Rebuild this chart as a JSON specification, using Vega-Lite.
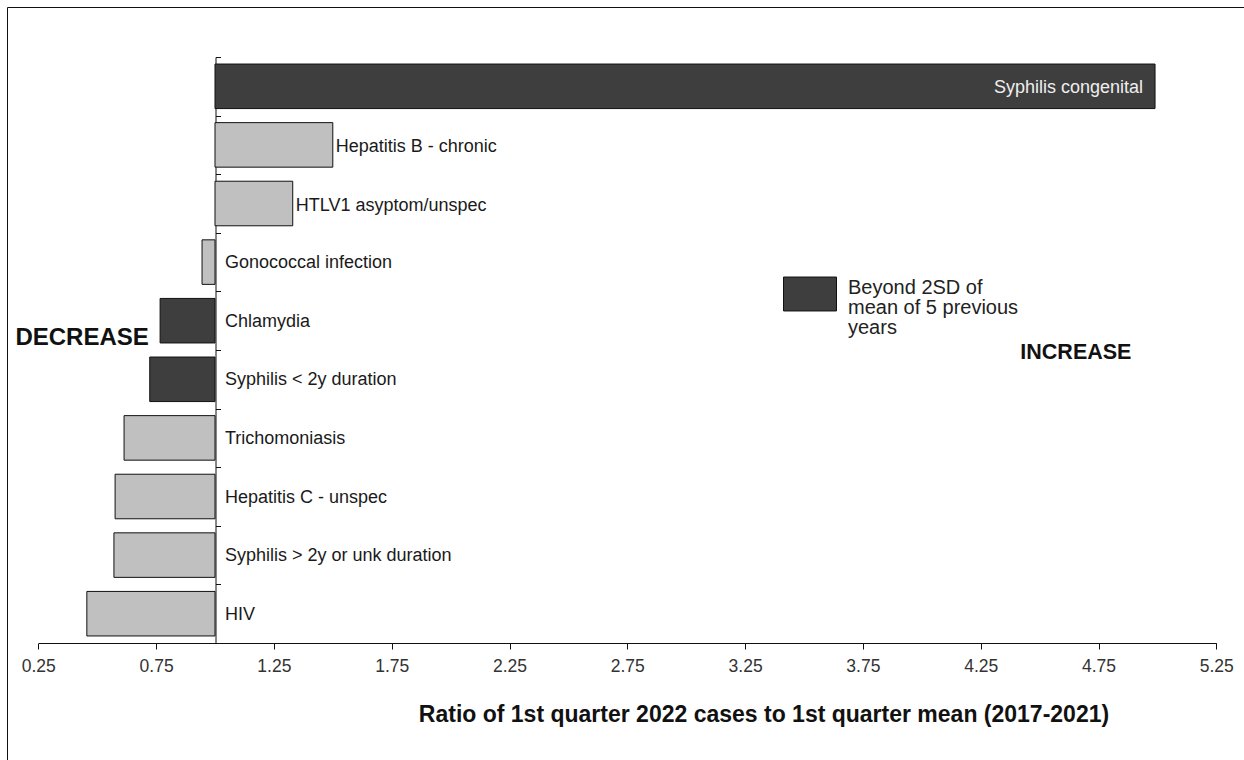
{
  "$schema": "https://vega.github.io/schema/vega-lite/v6.json",
  "autosize": {"type": "none"},
  "width": 1237,
  "height": 753,
  "padding": {"left": 7, "top": 7, "right": 0, "bottom": 0},
  "background": "white",
  "config": {
    "view": {"stroke": "#111", "strokeWidth": 1},
    "font": "Liberation Sans",
    "text": {"font": "Liberation Sans"},
    "style": {"guide-label": {"lineHeight": 20}}
  },
  "data": {
    "values": [
      {"disease": "Syphilis congenital", "ratio": 4.99, "status": "Beyond 2SD of mean of 5 previous years"},
      {"disease": "Hepatitis B - chronic", "ratio": 1.50, "status": "Within 2SD"},
      {"disease": "HTLV1 asyptom/unspec", "ratio": 1.33, "status": "Within 2SD"},
      {"disease": "Gonococcal infection", "ratio": 0.945, "status": "Within 2SD"},
      {"disease": "Chlamydia", "ratio": 0.767, "status": "Beyond 2SD of mean of 5 previous years"},
      {"disease": "Syphilis < 2y duration", "ratio": 0.723, "status": "Beyond 2SD of mean of 5 previous years"},
      {"disease": "Trichomoniasis", "ratio": 0.614, "status": "Within 2SD"},
      {"disease": "Hepatitis C - unspec", "ratio": 0.576, "status": "Within 2SD"},
      {"disease": "Syphilis > 2y or unk duration", "ratio": 0.571, "status": "Within 2SD"},
      {"disease": "HIV", "ratio": 0.456, "status": "Within 2SD"}
    ]
  },
  "encoding": {
    "y": {
      "field": "disease",
      "type": "nominal",
      "sort": null,
      "scale": {"range": [50, 636], "paddingInner": 0, "paddingOuter": 0},
      "axis": {
        "orient": "left",
        "offset": -208.5,
        "labels": false,
        "title": null,
        "tickSize": -5,
        "tickBand": "extent",
        "tickColor": "#111",
        "domainColor": "#111",
        "domainWidth": 1,
        "grid": false
      }
    }
  },
  "layer": [
    {
      "mark": {"type": "bar", "height": {"band": 0.76}, "stroke": "#111", "strokeWidth": 1},
      "encoding": {
        "x": {
          "field": "ratio",
          "type": "quantitative",
          "scale": {"domain": [0.25, 5.25], "range": [31.3, 1209.3], "nice": false, "zero": false},
          "axis": {
            "orient": "bottom",
            "offset": -117,
            "values": [0.25, 0.75, 1.25, 1.75, 2.25, 2.75, 3.25, 3.75, 4.25, 4.75, 5.25],
            "format": ".2f",
            "grid": false,
            "labelFlush": false,
            "labelOverlap": false,
            "labelFontSize": 17.5,
            "labelColor": "#333",
            "labelPadding": 8,
            "tickSize": 6,
            "tickColor": "#111",
            "domainColor": "#111",
            "title": "Ratio of 1st quarter 2022 cases to 1st quarter mean (2017-2021)",
            "titleFontSize": 23,
            "titleFontWeight": "bold",
            "titleColor": "#111",
            "titleX": 756.5,
            "titleY": 78,
            "titleAlign": "center",
            "titleBaseline": "alphabetic",
            "titleAnchor": null
          }
        },
        "x2": {"datum": 1},
        "fill": {
          "field": "status",
          "type": "nominal",
          "scale": {"domain": ["Beyond 2SD of mean of 5 previous years", "Within 2SD"], "range": ["#3e3e3e", "#c0c0c0"]},
          "legend": {
            "orient": "none",
            "legendX": 776,
            "legendY": 260,
            "values": ["Beyond 2SD of mean of 5 previous years"],
            "title": null,
            "padding": 0,
            "symbolType": "M-1,-0.64H1V0.64H-1Z",
            "symbolSize": 2809,
            "symbolStrokeColor": "#111",
            "symbolStrokeWidth": 1,
            "labelExpr": "['Beyond 2SD of', 'mean of 5 previous', 'years']",
            "labelFontSize": 20,
            "labelColor": "#222",
            "labelLimit": 400,
            "labelOffset": 11,
            "labelBaseline": "alphabetic",
            "labelFont": "Liberation Sans"
          }
        }
      }
    },
    {
      "transform": [{"filter": "datum.ratio > 1 && datum.ratio < 4"}],
      "mark": {"type": "text", "align": "left", "baseline": "middle", "dx": 3, "dy": 2, "fontSize": 18, "color": "#1a1a1a"},
      "encoding": {
        "x": {"field": "ratio", "type": "quantitative"},
        "text": {"field": "disease"}
      }
    },
    {
      "transform": [{"filter": "datum.ratio < 1"}],
      "mark": {"type": "text", "align": "left", "baseline": "middle", "dx": 10, "dy": 1, "fontSize": 18, "color": "#1a1a1a"},
      "encoding": {
        "x": {"datum": 1},
        "text": {"field": "disease"}
      }
    },
    {
      "transform": [{"filter": "datum.ratio >= 4"}],
      "mark": {"type": "text", "align": "right", "baseline": "middle", "dx": -12, "dy": 2, "fontSize": 18, "color": "#eeeeee"},
      "encoding": {
        "x": {"field": "ratio", "type": "quantitative"},
        "text": {"field": "disease"}
      }
    },
    {
      "data": {"values": [{"note": "DECREASE"}]},
      "mark": {"type": "text", "align": "center", "baseline": "middle", "dy": 17, "fontSize": 24, "fontWeight": "bold", "color": "#111"},
      "encoding": {
        "x": {"datum": 0.436},
        "y": {"datum": "Chlamydia"},
        "text": {"field": "note"}
      }
    },
    {
      "data": {"values": [{"note": "INCREASE"}]},
      "mark": {"type": "text", "align": "center", "baseline": "middle", "dy": -26, "fontSize": 21.5, "fontWeight": "bold", "color": "#111"},
      "encoding": {
        "x": {"datum": 4.654},
        "y": {"datum": "Syphilis < 2y duration"},
        "text": {"field": "note"}
      }
    }
  ]
}
